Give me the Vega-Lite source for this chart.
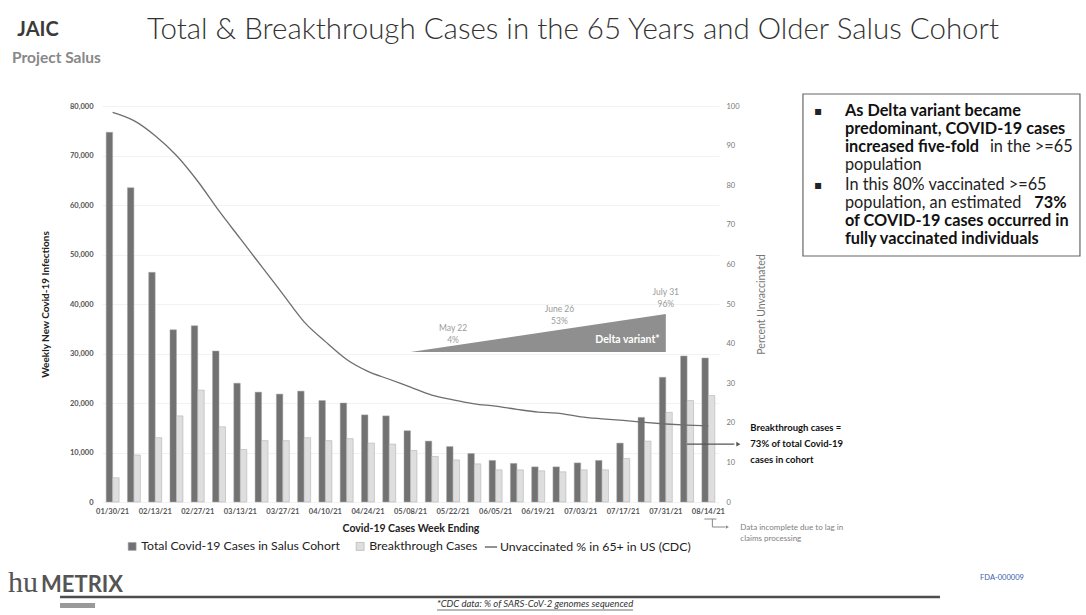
{
  "$schema": "https://vega.github.io/schema/vega-lite/v6.json",
  "width": 617,
  "height": 405,
  "autosize": {"type": "none"},
  "padding": {"left": 102, "top": 97, "right": 367, "bottom": 113},
  "background": "white",
  "config": {"view": {"stroke": null}, "font": "Lato", "text": {"font": "Lato"}},
  "datasets": {
    "weeks": [
      {"week": "01/30/21", "total": 74700, "breakthrough": 4900, "unvax": 98.4},
      {"week": "02/06/21", "total": 63500, "breakthrough": 9500, "unvax": 96.3},
      {"week": "02/13/21", "total": 46400, "breakthrough": 13000, "unvax": 92.5},
      {"week": "02/20/21", "total": 34800, "breakthrough": 17400, "unvax": 87.5},
      {"week": "02/27/21", "total": 35600, "breakthrough": 22600, "unvax": 81.0},
      {"week": "03/06/21", "total": 30500, "breakthrough": 15200, "unvax": 73.5},
      {"week": "03/13/21", "total": 24000, "breakthrough": 10600, "unvax": 66.5},
      {"week": "03/20/21", "total": 22200, "breakthrough": 12400, "unvax": 59.5},
      {"week": "03/27/21", "total": 21800, "breakthrough": 12400, "unvax": 52.5},
      {"week": "04/03/21", "total": 22400, "breakthrough": 13000, "unvax": 45.5},
      {"week": "04/10/21", "total": 20500, "breakthrough": 12400, "unvax": 40.5},
      {"week": "04/17/21", "total": 20000, "breakthrough": 12800, "unvax": 36.0},
      {"week": "04/24/21", "total": 17600, "breakthrough": 11900, "unvax": 33.0},
      {"week": "05/01/21", "total": 17400, "breakthrough": 11700, "unvax": 31.0},
      {"week": "05/08/21", "total": 14400, "breakthrough": 10400, "unvax": 29.0},
      {"week": "05/15/21", "total": 12300, "breakthrough": 9200, "unvax": 27.0},
      {"week": "05/22/21", "total": 11200, "breakthrough": 8500, "unvax": 25.8},
      {"week": "05/29/21", "total": 9800, "breakthrough": 7700, "unvax": 24.8},
      {"week": "06/05/21", "total": 8400, "breakthrough": 6500, "unvax": 24.2},
      {"week": "06/12/21", "total": 7800, "breakthrough": 6500, "unvax": 23.4},
      {"week": "06/19/21", "total": 7100, "breakthrough": 6300, "unvax": 22.7},
      {"week": "06/26/21", "total": 7100, "breakthrough": 6100, "unvax": 22.4},
      {"week": "07/03/21", "total": 7900, "breakthrough": 6500, "unvax": 21.5},
      {"week": "07/10/21", "total": 8400, "breakthrough": 6500, "unvax": 21.0},
      {"week": "07/17/21", "total": 11900, "breakthrough": 8800, "unvax": 20.6},
      {"week": "07/24/21", "total": 17100, "breakthrough": 12300, "unvax": 20.1},
      {"week": "07/31/21", "total": 25200, "breakthrough": 18100, "unvax": 19.7},
      {"week": "08/07/21", "total": 29500, "breakthrough": 20500, "unvax": 19.4},
      {"week": "08/14/21", "total": 29100, "breakthrough": 21500, "unvax": 19.2}
    ],
    "delta": [
      {"week": "05/08/21", "share": 0},
      {"week": "07/31/21", "share": 96}
    ],
    "deltaLabels": [
      {"week": "05/22/21", "share": 4, "label": ["May 22", "4%"]},
      {"week": "06/26/21", "share": 53, "label": ["June 26", "53%"]},
      {"week": "07/31/21", "share": 96, "label": ["July 31", "96%"]}
    ]
  },
  "layer": [
    {
      "data": {"name": "weeks"},
      "transform": [{"fold": ["total", "breakthrough"], "as": ["series", "cases"]}],
      "mark": {"type": "bar", "stroke": "#a9a9a9", "strokeWidth": 0.5},
      "encoding": {
        "x": {
          "field": "week",
          "type": "ordinal",
          "scale": {"paddingInner": 0.39, "paddingOuter": 0.195},
          "axis": {
            "title": "Covid-19 Cases Week Ending",
            "values": ["01/30/21", "02/13/21", "02/27/21", "03/13/21", "03/27/21", "04/10/21", "04/24/21", "05/08/21", "05/22/21", "06/05/21", "06/19/21", "07/03/21", "07/17/21", "07/31/21", "08/14/21"],
            "labelAngle": 0,
            "labelFontSize": 7.5,
            "labelFontWeight": "bold",
            "labelColor": "#555555",
            "labelPadding": 5,
            "ticks": false,
            "domain": false,
            "titleFontSize": 10.5,
            "titleFontWeight": "bold",
            "titleColor": "#222222",
            "titlePadding": 9
          }
        },
        "xOffset": {"field": "series", "type": "nominal", "scale": {"domain": ["total", "breakthrough"], "paddingInner": 0}},
        "y": {
          "field": "cases",
          "type": "quantitative",
          "scale": {"domain": [0, 80000], "range": [405, 9], "nice": false},
          "axis": {
            "orient": "left",
            "title": "Weekly New Covid-19 Infections",
            "values": [0, 10000, 20000, 30000, 40000, 50000, 60000, 70000, 80000],
            "format": ",d",
            "labelFontSize": 7.5,
            "labelFontWeight": "bold",
            "labelColor": "#555555",
            "labelPadding": 9,
            "ticks": false,
            "domain": false,
            "grid": true,
            "gridColor": "#f2f2f2",
            "titleFontSize": 10,
            "titleFontWeight": "bold",
            "titleColor": "#222222",
            "titlePadding": 19
          }
        },
        "color": {
          "field": "series",
          "type": "nominal",
          "scale": {"domain": ["total", "breakthrough"], "range": ["#727272", "#dedede"]},
          "legend": {
            "orient": "none",
            "legendX": 24,
            "legendY": 443,
            "direction": "horizontal",
            "title": null,
            "labelExpr": "datum.label == 'total' ? 'Total Covid-19 Cases in Salus Cohort' : 'Breakthrough Cases'",
            "symbolType": "square",
            "symbolSize": 64,
            "symbolStrokeColor": "#a9a9a9",
            "symbolStrokeWidth": 0.6,
            "labelFontSize": 12.3,
            "labelColor": "#222222",
            "labelOffset": 3,
            "columnPadding": 14,
            "labelLimit": 300
          }
        }
      }
    },
    {
      "data": {"name": "weeks"},
      "mark": {"type": "line", "strokeWidth": 1.3, "interpolate": "monotone"},
      "encoding": {
        "x": {"field": "week", "type": "ordinal"},
        "y": {
          "field": "unvax",
          "type": "quantitative",
          "scale": {"domain": [0, 100], "range": [405, 9], "nice": false},
          "axis": {
            "orient": "right",
            "title": "Percent Unvaccinated",
            "values": [0, 10, 20, 30, 40, 50, 60, 70, 80, 90, 100],
            "labelFontSize": 7.5,
            "labelColor": "#777777",
            "labelPadding": 7,
            "ticks": false,
            "domain": false,
            "grid": false,
            "titleFontSize": 10.5,
            "titleFontWeight": "normal",
            "titleColor": "#777777",
            "titleAngle": 270,
            "titlePadding": 27
          }
        },
        "stroke": {
          "datum": "Unvaccinated % in 65+ in US (CDC)",
          "scale": {"range": ["#6e6e6e"]},
          "legend": {
            "orient": "none",
            "legendX": 382,
            "legendY": 443,
            "title": null,
            "symbolType": "stroke",
            "symbolSize": 150,
            "symbolStrokeWidth": 1.5,
            "labelFontSize": 12.3,
            "labelColor": "#222222",
            "labelOffset": 2,
            "labelLimit": 300
          }
        }
      }
    },
    {
      "layer": [
        {
          "data": {"values": [{}]},
          "mark": {"type": "text", "text": "Total & Breakthrough Cases in the 65 Years and Older Salus Cohort", "align": "left", "baseline": "middle", "dx": 34.4, "dy": -76, "fontSize": 29.5, "fontWeight": 300, "color": "#333333"},
          "encoding": {
            "x": {"datum": "01/30/21", "type": "ordinal"},
            "y": {"datum": 100, "type": "quantitative", "scale": {"domain": [0, 100], "range": [405, 9], "nice": false}, "axis": null}
          }
        },
        {
          "data": {"values": [{}]},
          "mark": {"type": "text", "text": ["Breakthrough cases =", "73% of total Covid-19", "cases in cohort"], "align": "left", "baseline": "middle", "dx": 42, "dy": -16, "fontSize": 9.5, "fontWeight": "bold", "color": "#111111", "lineHeight": 16},
          "encoding": {
            "x": {"datum": "08/14/21", "type": "ordinal"},
            "y": {"datum": 14.6, "type": "quantitative", "axis": null}
          }
        },
        {
          "data": {"values": [{}]},
          "mark": {"type": "rule", "color": "#555555", "strokeWidth": 1.2, "x2Offset": 26},
          "encoding": {
            "x": {"datum": "08/07/21", "type": "ordinal"},
            "x2": {"datum": "08/14/21"},
            "y": {"datum": 14.6, "type": "quantitative", "axis": null}
          }
        },
        {
          "data": {"values": [{}]},
          "mark": {"type": "point", "shape": "triangle-right", "filled": true, "color": "#555555", "opacity": 1, "size": 22, "xOffset": 30},
          "encoding": {
            "x": {"datum": "08/14/21", "type": "ordinal"},
            "y": {"datum": 14.6, "type": "quantitative", "axis": null}
          }
        },
        {
          "data": {"values": [{}]},
          "mark": {"type": "text", "text": ["Data incomplete due to lag in", "claims processing"], "align": "left", "baseline": "middle", "dx": 32, "dy": 26, "fontSize": 8, "color": "#808080", "lineHeight": 11},
          "encoding": {
            "x": {"datum": "08/14/21", "type": "ordinal"},
            "y": {"datum": 0, "type": "quantitative", "axis": null}
          }
        },
        {
          "data": {"values": [{}]},
          "mark": {"type": "rule", "color": "#888888", "strokeWidth": 1, "xOffset": -4, "x2Offset": 8, "yOffset": 17},
          "encoding": {
            "x": {"datum": "08/14/21", "type": "ordinal"},
            "x2": {"datum": "08/14/21"},
            "y": {"datum": 0, "type": "quantitative", "axis": null}
          }
        },
        {
          "data": {"values": [{}]},
          "mark": {"type": "rule", "color": "#888888", "strokeWidth": 1, "xOffset": 4, "yOffset": 17, "y2Offset": 25},
          "encoding": {
            "x": {"datum": "08/14/21", "type": "ordinal"},
            "y": {"datum": 0, "type": "quantitative", "axis": null},
            "y2": {"datum": 0}
          }
        },
        {
          "data": {"values": [{}]},
          "mark": {"type": "rule", "color": "#888888", "strokeWidth": 1, "xOffset": 4, "x2Offset": 17, "yOffset": 25},
          "encoding": {
            "x": {"datum": "08/14/21", "type": "ordinal"},
            "x2": {"datum": "08/14/21"},
            "y": {"datum": 0, "type": "quantitative", "axis": null}
          }
        },
        {
          "data": {"values": [{}]},
          "mark": {"type": "point", "shape": "triangle-right", "filled": true, "color": "#888888", "opacity": 1, "size": 12, "xOffset": 19, "yOffset": 25},
          "encoding": {
            "x": {"datum": "08/14/21", "type": "ordinal"},
            "y": {"datum": 0, "type": "quantitative", "axis": null}
          }
        },
        {
          "data": {"values": [{}]},
          "mark": {"type": "rect", "fill": "#ffffff", "fillOpacity": 0, "stroke": "#666666", "strokeWidth": 1.2, "xOffset": 94.6, "x2Offset": 371.6, "yOffset": -12, "y2Offset": 150},
          "encoding": {
            "x": {"datum": "08/14/21", "type": "ordinal"},
            "x2": {"datum": "08/14/21"},
            "y": {"datum": 100, "type": "quantitative", "axis": null},
            "y2": {"datum": 100}
          }
        },
        {
          "data": {"values": [{}]},
          "mark": {"type": "text", "text": ["As Delta variant became", "predominant, COVID-19 cases", "increased five-fold"], "align": "left", "baseline": "middle", "dx": 136.6, "dy": 4.5, "fontSize": 16.3, "fontWeight": "bold", "color": "#111111", "lineHeight": 18},
          "encoding": {
            "x": {"datum": "08/14/21", "type": "ordinal"},
            "y": {"datum": 100, "type": "quantitative", "axis": null}
          }
        },
        {
          "data": {"values": [{}]},
          "mark": {"type": "text", "text": "in the >=65", "align": "left", "baseline": "middle", "dx": 281.6, "dy": 40.5, "fontSize": 16.3, "color": "#222222"},
          "encoding": {
            "x": {"datum": "08/14/21", "type": "ordinal"},
            "y": {"datum": 100, "type": "quantitative", "axis": null}
          }
        },
        {
          "data": {"values": [{}]},
          "mark": {"type": "text", "text": "population", "align": "left", "baseline": "middle", "dx": 136.6, "dy": 58.5, "fontSize": 16.3, "color": "#222222"},
          "encoding": {
            "x": {"datum": "08/14/21", "type": "ordinal"},
            "y": {"datum": 100, "type": "quantitative", "axis": null}
          }
        },
        {
          "data": {"values": [{}]},
          "mark": {"type": "text", "text": ["In this 80% vaccinated >=65", "population, an estimated"], "align": "left", "baseline": "middle", "dx": 136.6, "dy": 78.5, "fontSize": 16.3, "color": "#222222", "lineHeight": 18},
          "encoding": {
            "x": {"datum": "08/14/21", "type": "ordinal"},
            "y": {"datum": 100, "type": "quantitative", "axis": null}
          }
        },
        {
          "data": {"values": [{}]},
          "mark": {"type": "text", "text": "73%", "align": "left", "baseline": "middle", "dx": 326, "dy": 96.5, "fontSize": 16.3, "fontWeight": "bold", "color": "#111111"},
          "encoding": {
            "x": {"datum": "08/14/21", "type": "ordinal"},
            "y": {"datum": 100, "type": "quantitative", "axis": null}
          }
        },
        {
          "data": {"values": [{}]},
          "mark": {"type": "text", "text": ["of COVID-19 cases occurred in", "fully vaccinated individuals"], "align": "left", "baseline": "middle", "dx": 136.6, "dy": 114.5, "fontSize": 16.3, "fontWeight": "bold", "color": "#111111", "lineHeight": 18},
          "encoding": {
            "x": {"datum": "08/14/21", "type": "ordinal"},
            "y": {"datum": 100, "type": "quantitative", "axis": null}
          }
        },
        {
          "data": {"values": [{}]},
          "mark": {"type": "text", "text": "▪", "align": "center", "baseline": "middle", "dx": 109.6, "dy": 4.5, "fontSize": 12, "font": "DejaVu Sans", "color": "#222222"},
          "encoding": {
            "x": {"datum": "08/14/21", "type": "ordinal"},
            "y": {"datum": 100, "type": "quantitative", "axis": null}
          }
        },
        {
          "data": {"values": [{}]},
          "mark": {"type": "text", "text": "▪", "align": "center", "baseline": "middle", "dx": 109.6, "dy": 78.5, "fontSize": 12, "font": "DejaVu Sans", "color": "#222222"},
          "encoding": {
            "x": {"datum": "08/14/21", "type": "ordinal"},
            "y": {"datum": 100, "type": "quantitative", "axis": null}
          }
        },
        {
          "data": {"values": [{}]},
          "mark": {"type": "text", "text": "JAIC", "align": "center", "baseline": "middle", "dx": -74.6, "dy": -76, "fontSize": 20, "fontWeight": "bold", "color": "#3a3a3a"},
          "encoding": {
            "x": {"datum": "01/30/21", "type": "ordinal"},
            "y": {"datum": 100, "type": "quantitative", "axis": null}
          }
        },
        {
          "data": {"values": [{}]},
          "mark": {"type": "text", "text": "Project Salus", "align": "left", "baseline": "middle", "dx": -100.6, "dy": -48, "fontSize": 15.5, "fontWeight": "bold", "color": "#888888"},
          "encoding": {
            "x": {"datum": "01/30/21", "type": "ordinal"},
            "y": {"datum": 100, "type": "quantitative", "axis": null}
          }
        },
        {
          "data": {"values": [{}]},
          "mark": {"type": "text", "text": "hu", "align": "left", "baseline": "alphabetic", "dx": -104.6, "dy": 90, "fontSize": 30, "font": "Liberation Serif", "color": "#555555"},
          "encoding": {
            "x": {"datum": "01/30/21", "type": "ordinal"},
            "y": {"datum": 0, "type": "quantitative", "axis": null}
          }
        },
        {
          "data": {"values": [{}]},
          "mark": {"type": "text", "text": "METRIX", "align": "left", "baseline": "alphabetic", "dx": -71.6, "dy": 90, "fontSize": 22, "fontWeight": "bold", "color": "#555555"},
          "encoding": {
            "x": {"datum": "01/30/21", "type": "ordinal"},
            "y": {"datum": 0, "type": "quantitative", "axis": null}
          }
        },
        {
          "data": {"values": [{}]},
          "mark": {"type": "rule", "color": "#4d4d4d", "strokeWidth": 2.5, "xOffset": -52.6, "x2Offset": 231.6, "yOffset": 95},
          "encoding": {
            "x": {"datum": "01/30/21", "type": "ordinal"},
            "x2": {"datum": "08/14/21"},
            "y": {"datum": 0, "type": "quantitative", "axis": null}
          }
        },
        {
          "data": {"values": [{}]},
          "mark": {"type": "rect", "color": "#999999", "xOffset": -52.6, "x2Offset": -17.6, "yOffset": 101, "y2Offset": 106},
          "encoding": {
            "x": {"datum": "01/30/21", "type": "ordinal"},
            "x2": {"datum": "01/30/21"},
            "y": {"datum": 0, "type": "quantitative", "axis": null},
            "y2": {"datum": 0}
          }
        },
        {
          "data": {"values": [{}]},
          "mark": {"type": "text", "text": "*CDC data: % of SARS-CoV-2 genomes sequenced", "align": "center", "baseline": "middle", "dx": 422.4, "dy": 102, "fontSize": 9.5, "fontStyle": "italic", "color": "#333333"},
          "encoding": {
            "x": {"datum": "01/30/21", "type": "ordinal"},
            "y": {"datum": 0, "type": "quantitative", "axis": null}
          }
        },
        {
          "data": {"values": [{}]},
          "mark": {"type": "rule", "color": "#333333", "strokeWidth": 0.7, "xOffset": 324.4, "x2Offset": 520.4, "yOffset": 108},
          "encoding": {
            "x": {"datum": "01/30/21", "type": "ordinal"},
            "x2": {"datum": "01/30/21"},
            "y": {"datum": 0, "type": "quantitative", "axis": null}
          }
        },
        {
          "data": {"values": [{}]},
          "mark": {"type": "text", "text": "FDA-000009", "align": "center", "baseline": "middle", "dx": 293.6, "dy": 76, "fontSize": 7.5, "color": "#3b5bb0"},
          "encoding": {
            "x": {"datum": "08/14/21", "type": "ordinal"},
            "y": {"datum": 0, "type": "quantitative", "axis": null}
          }
        }
      ]
    },
    {
      "layer": [
        {
          "data": {"name": "delta"},
          "mark": {"type": "area", "color": "#8f8f8f", "opacity": 1},
          "encoding": {
            "x": {"field": "week", "type": "ordinal"},
            "y": {"field": "share", "type": "quantitative", "scale": {"domain": [0, 96], "range": [255, 217], "nice": false, "zero": false}, "axis": null},
            "y2": {"datum": 0}
          }
        },
        {
          "data": {"name": "deltaLabels"},
          "mark": {"type": "text", "align": "center", "baseline": "bottom", "dy": -17, "fontSize": 8.5, "color": "#9a9a9a", "lineHeight": 12},
          "encoding": {
            "x": {"field": "week", "type": "ordinal"},
            "y": {"field": "share", "type": "quantitative", "axis": null},
            "text": {"field": "label", "type": "nominal"}
          }
        },
        {
          "data": {"values": [{}]},
          "mark": {"type": "text", "text": "Delta variant*", "align": "right", "baseline": "middle", "dx": -6, "dy": -12, "fontSize": 10.5, "fontWeight": "bold", "color": "#ffffff"},
          "encoding": {
            "x": {"datum": "07/31/21", "type": "ordinal"},
            "y": {"datum": 0, "type": "quantitative", "axis": null}
          }
        }
      ]
    }
  ],
  "resolve": {"scale": {"y": "independent"}}
}
